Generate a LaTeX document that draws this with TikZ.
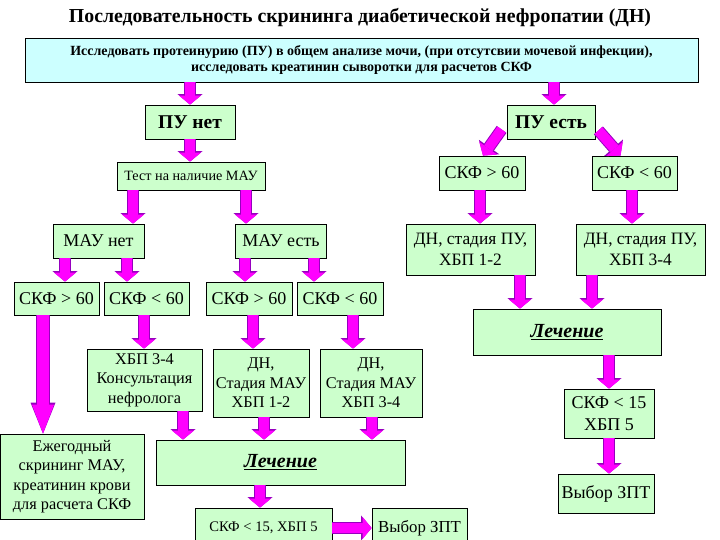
\documentclass[tikz,border=0pt]{standalone}
\usepackage{fontspec}
\setmainfont{Liberation Serif}
\usetikzlibrary{arrows.meta,calc}
\definecolor{boxgreen}{RGB}{204,255,204}
\definecolor{boxcyan}{RGB}{204,255,255}
\definecolor{arrfill}{RGB}{255,0,255}
\definecolor{arredge}{RGB}{150,0,190}
\tikzset{
  box/.style={draw, fill=boxgreen, line width=0.8pt, align=center, inner sep=1pt},
  arr/.style={draw=arrfill, line width=10pt, -{Triangle[length=9pt,width=22pt,line width=0pt]},
    preaction={draw=arredge, line width=12pt, -{Triangle[length=10.5pt,width=25pt,line width=0pt]}}},
  arrlong/.style={draw=arrfill, line width=12pt, -{Triangle[length=29pt,width=22pt,line width=0pt]},
    preaction={draw=arredge, line width=14pt, -{Triangle[length=31pt,width=25pt,line width=0pt]}}},
  f14/.style={font=\fontsize{14.6}{17}\selectfont},
  f15/.style={font=\fontsize{16.3}{19.5}\selectfont},
  f16/.style={font=\fontsize{17.4}{21}\selectfont},
  f18/.style={font=\fontsize{18}{22}\selectfont},
  lech/.style={font=\bfseries\itshape\fontsize{20}{24}\selectfont},
}
\begin{document}
\begin{tikzpicture}[x=1pt, y=-1pt]
  \useasboundingbox (0,0) rectangle (720,540);
  % title and first step
  \node[font=\bfseries\fontsize{19.8}{23}\selectfont] (title) at (360,18) {Последовательность скрининга диабетической нефропатии (ДН)};
  \node[box, fill=boxcyan, minimum width=673pt, minimum height=44pt, font=\bfseries\fontsize{14}{16}\selectfont] (top) at (361.5,60)
    {Исследовать протеинурию (ПУ) в общем анализе мочи, (при отсутсвии мочевой инфекции),\\исследовать креатинин сыворотки для расчетов СКФ};
  \node[box, minimum width=90pt, minimum height=34pt, font=\bfseries\fontsize{19.5}{23}\selectfont] (punet) at (190,122) {ПУ нет};
  \node[box, minimum width=88pt, minimum height=34pt, font=\bfseries\fontsize{19.5}{23}\selectfont] (puest) at (551,122) {ПУ есть};
  % left branch
  \node[box, font=\fontsize{14.2}{17}\selectfont, minimum width=148pt, minimum height=28pt] (test) at (191,176) {Тест на наличие МАУ};
  \node[box, f18, minimum width=91pt, minimum height=34pt] (maunet) at (98.5,241) {МАУ нет};
  \node[box, f18, minimum width=91pt, minimum height=34pt] (mauest) at (281,241) {МАУ есть};
  \node[box, f18, minimum width=85pt, minimum height=33pt] (skfa) at (56.5,298.5) {СКФ > 60};
  \node[box, f18, minimum width=85pt, minimum height=33pt] (skfb) at (146.5,298.5) {СКФ < 60};
  \node[box, f18, minimum width=86pt, minimum height=33pt] (skfc) at (249,298.5) {СКФ > 60};
  \node[box, f18, minimum width=86pt, minimum height=33pt] (skfd) at (340,298.5) {СКФ < 60};
  \node[box, f15, minimum width=115pt, minimum height=62pt] (hbp) at (144.5,380) {ХБП 3-4\\Консультация\\нефролога};
  \node[box, f15, minimum width=96pt, minimum height=68pt] (dnmaua) at (261,383) {ДН,\\Стадия МАУ\\ХБП 1-2};
  \node[box, f15, minimum width=102pt, minimum height=68pt] (dnmaub) at (371,383) {ДН,\\Стадия МАУ\\ХБП 3-4};
  \node[box, f15, minimum width=144pt, minimum height=85pt] (annual) at (72,476.5) {Ежегодный\\скрининг МАУ,\\креатинин крови\\для расчета СКФ};
  \node[box, lech, minimum width=249pt, minimum height=45pt] (lechb) at (280.5,462.5) {\underline{Лечение}};
  \node[box, f14, minimum width=137pt, minimum height=40pt] (skflowb) at (263.5,528) {СКФ < 15, ХБП 5};
  \node[box, font=\fontsize{16.8}{20}\selectfont, minimum width=95pt, minimum height=40pt] (zptb) at (419.5,528) {Выбор ЗПТ};
  % right branch
  \node[box, f18, minimum width=86pt, minimum height=34pt] (skfe) at (482,173) {СКФ > 60};
  \node[box, f18, minimum width=85pt, minimum height=34pt] (skff) at (634.5,173) {СКФ < 60};
  \node[box, f16, minimum width=129pt, minimum height=51pt] (dnpua) at (470.5,249.5) {ДН, стадия ПУ,\\ХБП 1-2};
  \node[box, f16, minimum width=129pt, minimum height=51pt] (dnpub) at (640.5,249.5) {ДН, стадия ПУ,\\ХБП 3-4};
  \node[box, lech, minimum width=188pt, minimum height=46pt] (lechr) at (567,332) {\underline{Лечение}};
  \node[box, f18, minimum width=90pt, minimum height=49pt] (skflowr) at (609,413.5) {СКФ < 15\\ХБП 5};
  \node[box, f18, minimum width=96pt, minimum height=39pt] (zptr) at (606,493.5) {Выбор ЗПТ};
  % arrows
  \draw[arr] (top.south -| 190,0) -- (punet.north -| 190,0);
  \draw[arr] (top.south -| 554,0) -- (puest.north -| 554,0);
  \draw[arr] (punet.south -| 190,0) -- (test.north -| 190,0);
  \draw[arr] ($(puest.south west)+(-5,-10)$) -- ($(skfe.north)+(1,0)$);
  \draw[arr] ($(puest.south east)+(3,-9)$) -- ($(skff.north)+(-14,0)$);
  \draw[arr] (test.south -| 133,0) -- (maunet.north -| 133,0);
  \draw[arr] (test.south -| 246,0) -- (mauest.north -| 246,0);
  \draw[arr] (maunet.south -| 65,0) -- (skfa.north -| 65,0);
  \draw[arr] (maunet.south -| 127,0) -- (skfb.north -| 127,0);
  \draw[arr] (mauest.south -| 245,0) -- (skfc.north -| 245,0);
  \draw[arr] (mauest.south -| 314,0) -- (skfd.north -| 314,0);
  \draw[arrlong] (skfa.south -| 43,0) -- (annual.north -| 43,0);
  \draw[arr] (skfb.south -| 144,0) -- (hbp.north -| 144,0);
  \draw[arr] (skfc.south -| 253,0) -- (dnmaua.north -| 253,0);
  \draw[arr] (skfd.south -| 353,0) -- (dnmaub.north -| 353,0);
  \draw[arr] (hbp.south -| 183,0) -- (lechb.north -| 183,0);
  \draw[arr] (dnmaua.south -| 264,0) -- (lechb.north -| 264,0);
  \draw[arr] (dnmaub.south -| 372,0) -- (lechb.north -| 372,0);
  \draw[arr] (lechb.south -| 260,0) -- (skflowb.north -| 260,0);
  \draw[arr] (skflowb.east |- 0,528) -- (zptb.west |- 0,528);
  \draw[arr] (skfe.south -| 480,0) -- (dnpua.north -| 480,0);
  \draw[arr] (skff.south -| 632,0) -- (dnpub.north -| 632,0);
  \draw[arr] (dnpua.south -| 520,0) -- (lechr.north -| 520,0);
  \draw[arr] (dnpub.south -| 592,0) -- (lechr.north -| 592,0);
  \draw[arr] (lechr.south -| 609,0) -- (skflowr.north -| 609,0);
  \draw[arr] (skflowr.south -| 609,0) -- (zptr.north -| 609,0);
\end{tikzpicture}
\end{document}
